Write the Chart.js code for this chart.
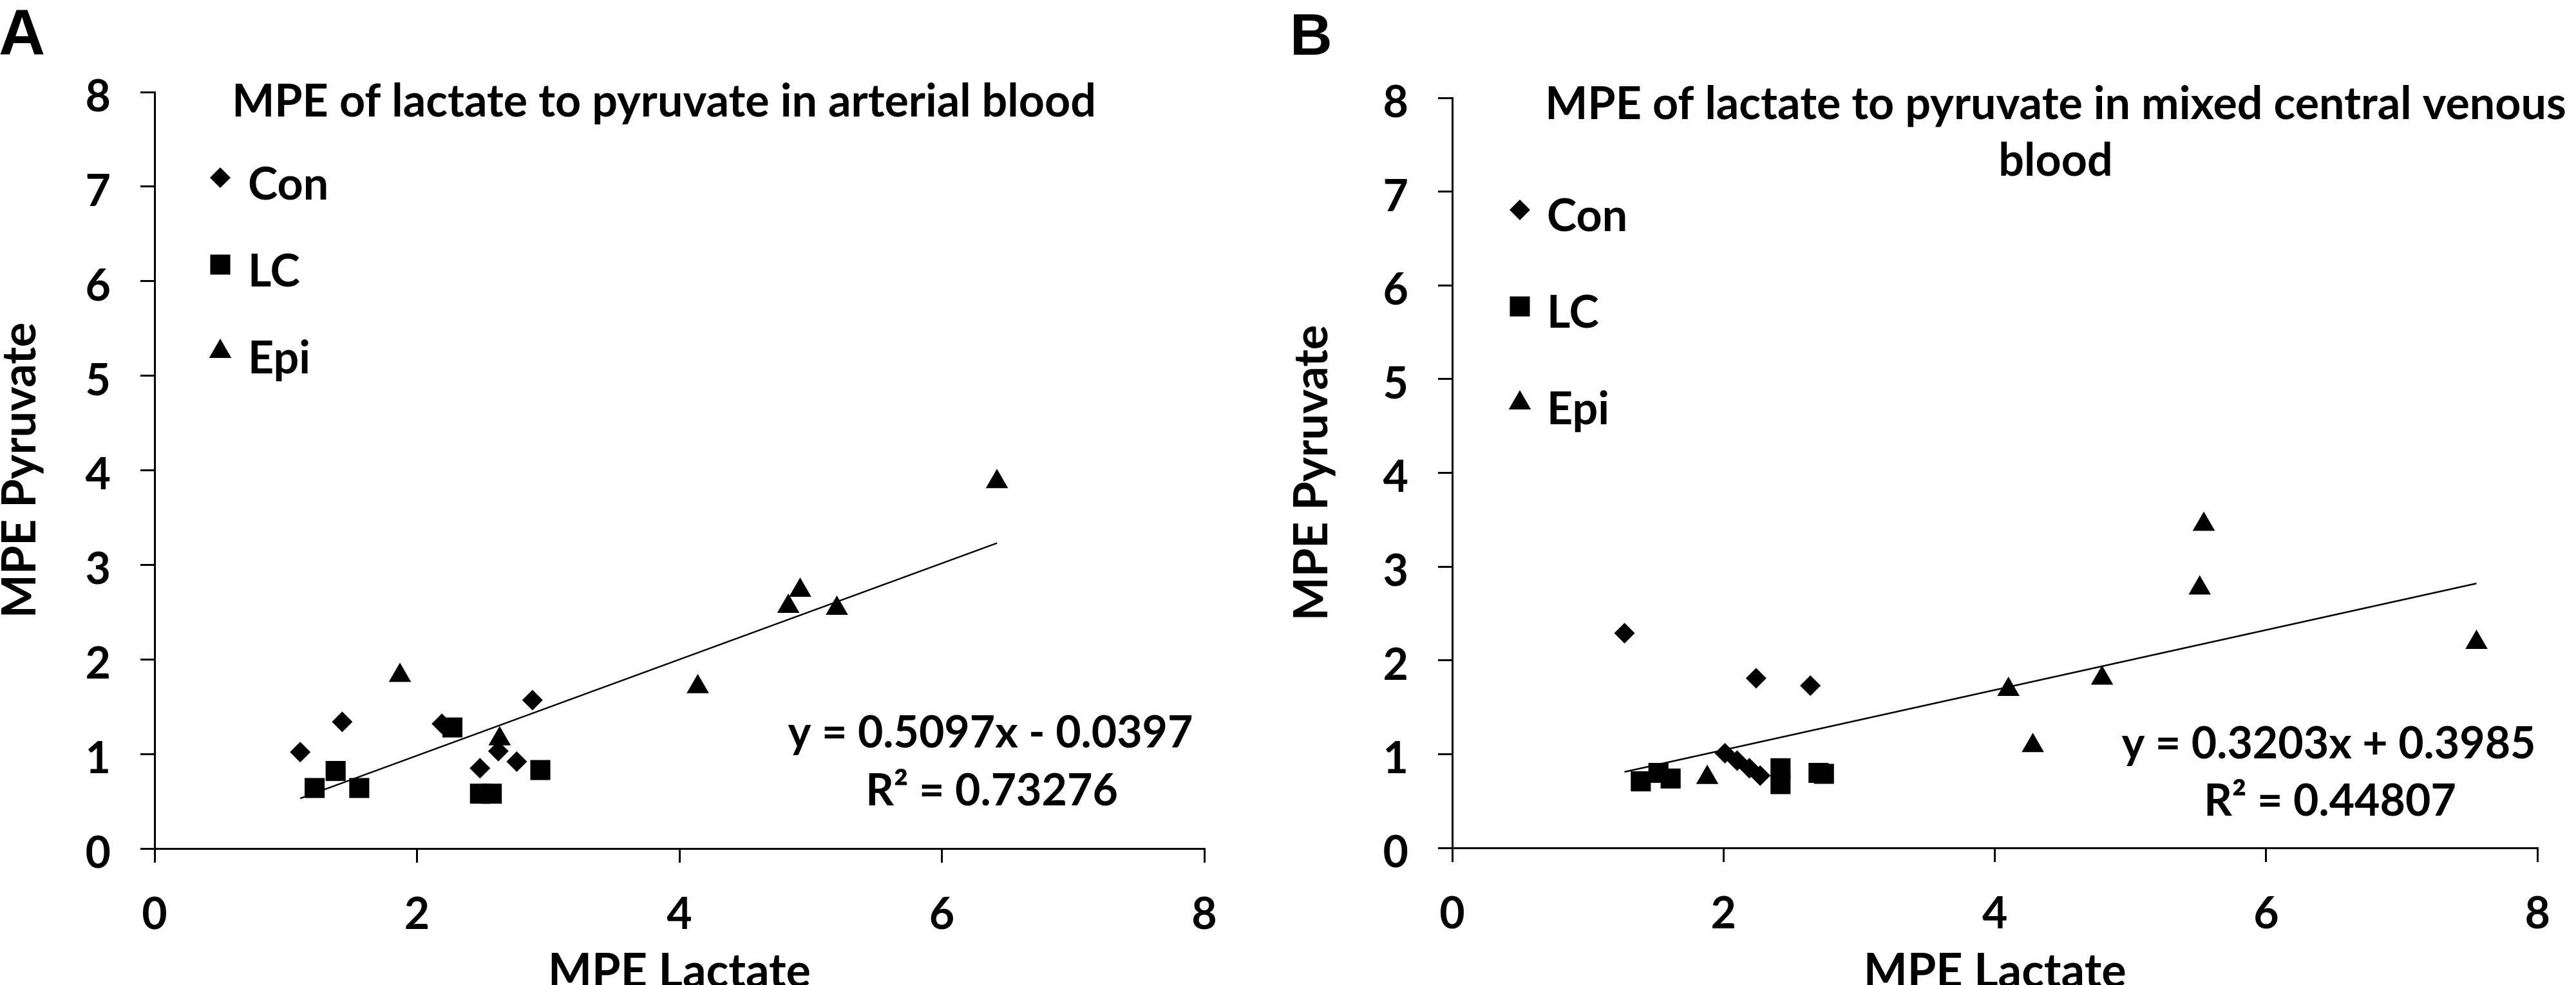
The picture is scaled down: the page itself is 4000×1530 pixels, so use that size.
<!DOCTYPE html>
<html>
<head>
<meta charset="utf-8">
<script src="https://cdn.jsdelivr.net/npm/chart.js@4.4.1/dist/chart.umd.min.js"></script>
<style>
html,body{margin:0;padding:0;background:#fff;overflow:hidden}
#wrap{display:flex;width:4000px;height:1530px}
.panel{width:2000px;height:1530px}
</style>
</head>
<body>
<div id="wrap">
  <div class="panel"><canvas id="chartA" width="2000" height="1530"></canvas></div>
  <div class="panel"><canvas id="chartB" width="2000" height="1530"></canvas></div>
</div>
<script>
// MPE lactate vs MPE pyruvate, two scatter panels with linear trend lines

// Panel A — arterial blood
const conA_x = [1.11, 1.43, 2.19, 2.48, 2.62, 2.76, 2.88];
const conA_y = [1.02, 1.34, 1.32, 0.85, 1.03, 0.92, 1.57];
const lcA_x  = [1.22, 1.38, 1.56, 2.27, 2.48, 2.57, 2.94];
const lcA_y  = [0.64, 0.82, 0.64, 1.28, 0.58, 0.58, 0.83];
const epiA_x = [1.87, 2.63, 4.14, 4.83, 4.92, 5.20, 6.42];
const epiA_y = [1.83, 1.16, 1.71, 2.56, 2.73, 2.54, 3.88];
const trendA_x = [1.11, 6.42];
const trendA_y = [0.53, 3.23];

// Panel B — mixed central venous blood
const conB_x = [1.27, 2.24, 2.64, 2.01, 2.10, 2.19, 2.27];
const conB_y = [2.29, 1.81, 1.73, 1.01, 0.93, 0.85, 0.77];
const lcB_x  = [1.39, 1.52, 1.61, 2.42, 2.42, 2.70, 2.74];
const lcB_y  = [0.71, 0.80, 0.74, 0.85, 0.68, 0.80, 0.79];
const epiB_x = [1.88, 4.10, 4.28, 4.79, 5.51, 5.54, 7.55];
const epiB_y = [0.75, 1.69, 1.09, 1.81, 2.77, 3.45, 2.19];
const trendB_x = [1.27, 7.55];
const trendB_y = [0.81, 2.82];

// axes / text
const xTicksStep = 2, yTicksStep = 1, axisMax = 8;
const xTitle = "MPE Lactate";
const yTitle = "MPE Pyruvate";
const titleA = ["MPE of lactate to pyruvate in arterial blood"];
const titleB = ["MPE of lactate to pyruvate in mixed central venous", "blood"];
const eqA = ["y = 0.5097x - 0.0397", "R\u00B2 = 0.73276"];
const eqB = ["y = 0.3203x + 0.3985", "R\u00B2 = 0.44807"];
const groups = ["Con", "LC", "Epi"];

const FONT = "Lato, 'Noto Sans', sans-serif";
const H = 1530;
Chart.defaults.font.family = FONT;
Chart.defaults.font.weight = "bold";
Chart.defaults.color = "#000";

const MARK = [
  {pointStyle:"rectRot", radius:16},
  {pointStyle:"rect", radius:22},
  {pointStyle:"triangle", radius:20},
];

function pts(xs, ys){ return xs.map((x,i)=>({x, y:ys[i]})); }

// letter, title, in-plot legend and regression text
const decor = {
  id: "decor",
  afterDatasetsDraw(chart, args, o){
    const ctx = chart.ctx;
    ctx.save();
    ctx.fillStyle = "#000";
    ctx.textBaseline = "alphabetic";

    ctx.font = `bold ${o.letterSize}px 'Liberation Sans', Arial, sans-serif`;
    ctx.textAlign = "left";
    ctx.fillText(o.letter, o.letterX, o.letterY);

    ctx.font = `bold ${o.titleSize}px ${FONT}`;
    ctx.textAlign = "center";
    o.title.forEach((t,i)=>ctx.fillText(t, o.titleX, o.titleY + i*o.titleGap));

    ctx.font = `bold ${o.legendSize}px ${FONT}`;
    ctx.textAlign = "left";
    groups.forEach((g,i)=>{
      const y = o.legendY + i*o.legendGap;
      Chart.helpers.drawPoint(ctx, {...MARK[i], rotation:0, borderWidth:0}, o.legendX, y);
      ctx.fillText(g, o.legendTextX, y + o.legendTextDy);
    });

    ctx.font = `bold ${o.eqSize}px ${FONT}`;
    ctx.textAlign = "center";
    o.eq.forEach((t,i)=>ctx.fillText(t, o.eqX[i], o.eqY[i]));
    ctx.restore();
  }
};

function buildChart(id, data, layout, deco){
  const sets = [
    {label:"trend", data:pts(data.tx, data.ty), showLine:true, pointRadius:0,
     borderColor:"#000", borderWidth:2.5, order:4},
  ];
  data.series.forEach((s,i)=>sets.push({
    label:groups[i], data:pts(s[0], s[1]),
    pointStyle:MARK[i].pointStyle, pointRadius:MARK[i].radius, pointHoverRadius:MARK[i].radius,
    backgroundColor:"#000", borderColor:"#000", borderWidth:0, order:i
  }));

  return new Chart(document.getElementById(id), {
    type:"scatter",
    data:{datasets:sets},
    options:{
      responsive:false, animation:false,
      layout:{padding:{left:0, top:layout.top, right:layout.right, bottom:0}},
      plugins:{legend:{display:false}, tooltip:{enabled:false}, decor:deco},
      scales:{
        x:{
          type:"linear", position:"bottom", min:0, max:axisMax,
          ticks:{stepSize:xTicksStep, padding:40, font:{size:68}},
          grid:{drawOnChartArea:false, drawTicks:true, tickLength:22, color:"#000", lineWidth:3},
          border:{display:true, color:"#000", width:3},
          title:{display:true, text:xTitle, font:{size:72, lineHeight:1}, padding:{top:0, bottom:-16}},
          afterFit(s){ s.height = H - layout.bottom; }
        },
        y:{
          type:"linear", min:0, max:axisMax,
          ticks:{stepSize:yTicksStep, padding:46, labelOffset:8, font:{size:68}},
          grid:{drawOnChartArea:false, drawTicks:true, tickLength:22, color:"#000", lineWidth:3},
          border:{display:true, color:"#000", width:3},
          title:{display:true, text:yTitle, font:{size:72, lineHeight:1}, padding:{top:layout.ytPad, bottom:0}},
          afterFit(s){ s.width = layout.left; }
        }
      }
    },
    plugins:[decor]
  });
}

buildChart("chartA",
  {series:[[conA_x,conA_y],[lcA_x,lcA_y],[epiA_x,epiA_y]], tx:trendA_x, ty:trendA_y},
  {left:240, top:143, right:130, bottom:1318, ytPad:-4},
  {letter:"A", letterSize:100, letterX:-2, letterY:85,
   title:titleA, titleSize:70, titleX:1031, titleY:181, titleGap:88,
   legendX:342, legendY:276, legendGap:135, legendTextX:385, legendTextDy:34, legendSize:70,
   eq:eqA, eqSize:68, eqX:[1538,1540], eqY:[1161,1251]});

buildChart("chartB",
  {series:[[conB_x,conB_y],[lcB_x,lcB_y],[epiB_x,epiB_y]], tx:trendB_x, ty:trendB_y},
  {left:255, top:152, right:44, bottom:1317, ytPad:2},
  {letter:"B", letterSize:91, letterX:3, letterY:85,
   title:titleB, titleSize:70, titleX:1192, titleY:185, titleGap:88,
   legendX:360, legendY:326, legendGap:150, legendTextX:402, legendTextDy:33, legendSize:70,
   eq:eqB, eqSize:68, eqX:[1616,1618], eqY:[1178,1267]});
</script>
</body>
</html>
